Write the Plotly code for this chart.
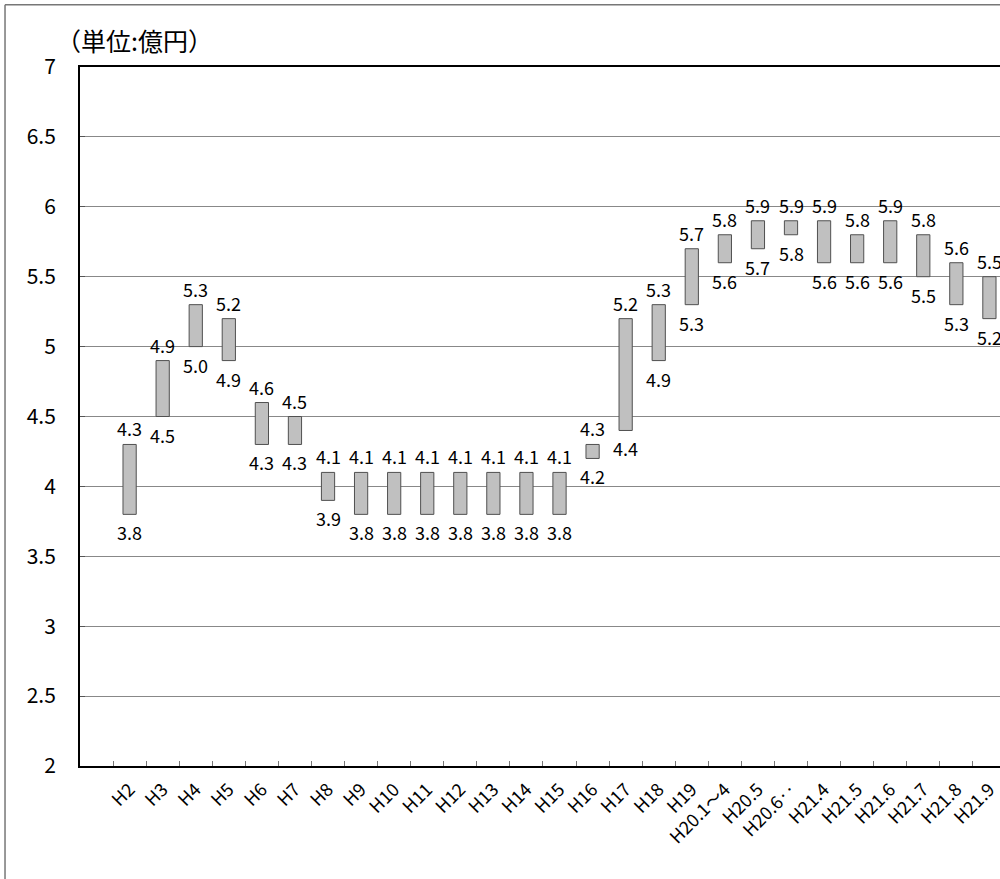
import plotly.graph_objects as go

categories = ["H2", "H3", "H4", "H5", "H6", "H7", "H8", "H9", "H10", "H11", "H12",
              "H13", "H14", "H15", "H16", "H17", "H18", "H19", "H20.1～4", "H20.5",
              "H20.6‥", "H21.4", "H21.5", "H21.6", "H21.7", "H21.8", "H21.9"]
low_values = [3.8, 4.5, 5.0, 4.9, 4.3, 4.3, 3.9, 3.8, 3.8, 3.8, 3.8,
              3.8, 3.8, 3.8, 4.2, 4.4, 4.9, 5.3, 5.6, 5.7,
              5.8, 5.6, 5.6, 5.6, 5.5, 5.3, 5.2]
high_values = [4.3, 4.9, 5.3, 5.2, 4.6, 4.5, 4.1, 4.1, 4.1, 4.1, 4.1,
               4.1, 4.1, 4.1, 4.3, 5.2, 5.3, 5.7, 5.8, 5.9,
               5.9, 5.9, 5.8, 5.9, 5.8, 5.6, 5.5]
y_ticks = [2, 2.5, 3, 3.5, 4, 4.5, 5, 5.5, 6, 6.5, 7]
y_tick_labels = ["2", "2.5", "3", "3.5", "4", "4.5", "5", "5.5", "6", "6.5", "7"]
unit_label = "（単位:億円）"

FONT = "Noto Sans CJK JP, Liberation Sans, sans-serif"
blank = " "
cat_order = [blank] + categories

fig = go.Figure()
fig.add_trace(go.Bar(
    x=categories,
    y=[h - l for h, l in zip(high_values, low_values)],
    base=low_values,
    width=0.4,
    marker=dict(color="#C0C0C0", line=dict(color="#505050", width=1)),
    showlegend=False,
    hoverinfo="skip",
))

annotations = []
for c, lo, hi in zip(categories, low_values, high_values):
    annotations.append(dict(x=c, y=hi, text=f"{hi:.1f}", showarrow=False,
                            yshift=16, xanchor="center", yanchor="middle",
                            font=dict(size=18, color="#000", family=FONT)))
    annotations.append(dict(x=c, y=lo, text=f"{lo:.1f}", showarrow=False,
                            yshift=-18, xanchor="center", yanchor="middle",
                            font=dict(size=18, color="#000", family=FONT)))

annotations.append(dict(xref="paper", yref="paper", x=-0.028, y=1.0, yshift=27,
                        text=unit_label, showarrow=False, xanchor="left",
                        yanchor="middle",
                        font=dict(size=25, color="#000", family=FONT)))

fig.update_layout(
    width=1000, height=879,
    margin=dict(l=80, r=0, t=67, b=113, autoexpand=False),
    paper_bgcolor="white", plot_bgcolor="white",
    bargap=0.6,
    annotations=annotations,
    shapes=[
        dict(type="line", xref="paper", yref="paper", x0=-0.0815, x1=-0.0815,
             y0=-0.2, y1=1.089, line=dict(color="#777", width=1.5)),
        dict(type="line", xref="paper", yref="paper", x0=-0.0815, x1=1.0,
             y0=1.089, y1=1.089, line=dict(color="#777", width=1.5)),
    ],
    xaxis=dict(
        type="category", categoryorder="array", categoryarray=cat_order,
        range=[-0.5, 27.32], automargin=False,
        tickson="boundaries", ticks="inside", ticklen=5, tickcolor="#777",
        tickangle=-45,
        showline=True, linecolor="#000", linewidth=2, mirror=True,
        showgrid=False,
        tickfont=dict(size=18, color="#000", family=FONT),
        ticklabelstandoff=4,
    ),
    yaxis=dict(
        range=[2, 7], tickvals=y_ticks, ticktext=y_tick_labels,
        ticks="inside", ticklen=5, tickcolor="#555", automargin=False,
        showgrid=True, gridcolor="#888", gridwidth=1,
        showline=True, linecolor="#000", linewidth=2, mirror=True,
        zeroline=False,
        tickfont=dict(size=21, color="#000", family=FONT),
        ticklabelstandoff=18,
    ),
)

fig.write_html(
    "out.html",
    config={"displayModeBar": False},
    post_script="document.body.style.margin='0';document.body.style.overflow='hidden';",
)
